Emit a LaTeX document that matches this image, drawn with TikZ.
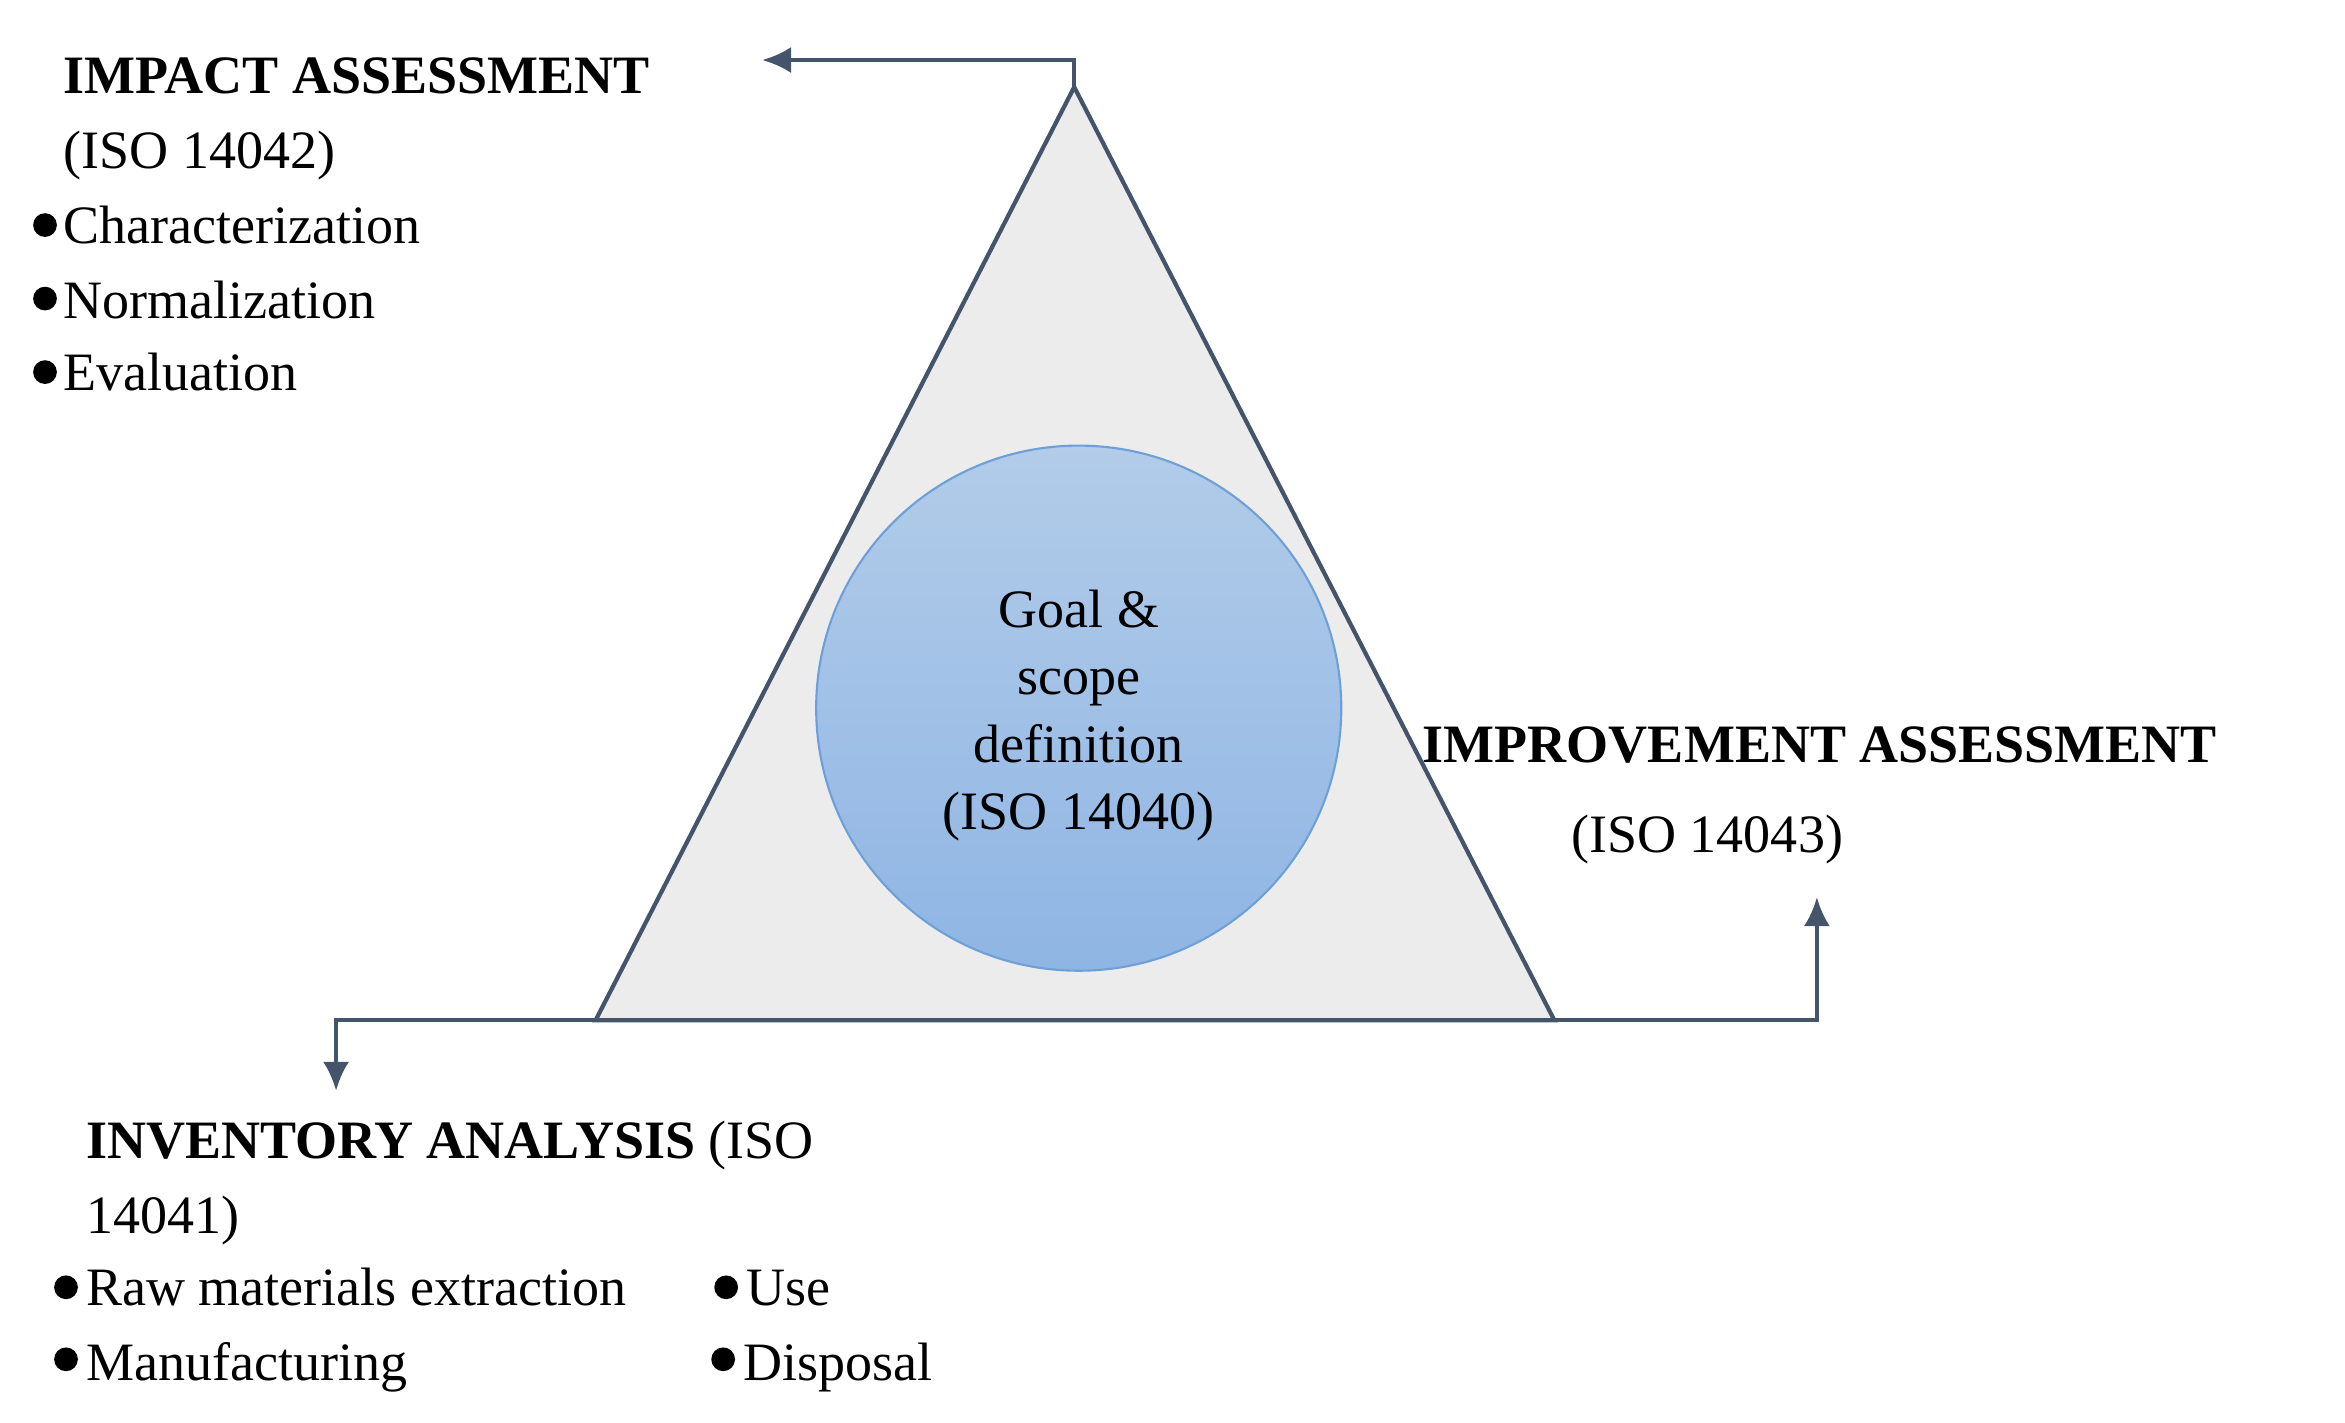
\documentclass[tikz,border=0pt]{standalone}
\usepackage{fontspec}
\setmainfont{Liberation Serif}
\begin{document}
\begin{tikzpicture}[x=0.02cm,y=-0.02cm,
  lbl/.style={anchor=base west,inner sep=0,font=\fontsize{20.5}{25}\selectfont},
  ctr/.style={anchor=base,inner sep=0,font=\fontsize{20.5}{25}\selectfont},
  conn/.style={draw=edge,line width=1.6pt,-{Latex[length=11pt,width=10pt]}},
  bul/.style={circle,fill=black,inner sep=0,minimum size=9pt}]
\usetikzlibrary{arrows.meta}
\definecolor{edge}{HTML}{44546A}
\useasboundingbox (0,0) rectangle (1563,948);
\coordinate (A) at (716,58);
\coordinate (B) at (397,680);
\coordinate (C) at (1036,680);
\draw[edge,line width=1.6pt,fill={rgb,255:red,236;green,236;blue,236}] (A)--(B)--(C)--cycle;
\node[circle,minimum size=350*0.02cm,top color={rgb,255:red,178;green,204;blue,233},bottom color={rgb,255:red,143;green,181;blue,228},draw={rgb,255:red,110;green,160;blue,215},line width=0.8pt] (circ) at (719,472) {};
\node[ctr] at (719,418) {Goal \&};
\node[ctr] at (719,463) {scope};
\node[ctr] at (719,508) {definition};
\node[ctr] at (719,553) {(ISO 14040)};
\coordinate (t1) at (716,40); \coordinate (t2) at (508,40);
\draw[conn] (A)--(t1)--(t2);
\coordinate (l1) at (224,680); \coordinate (l2) at (224,727);
\draw[conn] (B)--(l1)--(l2);
\coordinate (r1) at (1211,680); \coordinate (r2) at (1211,598);
\draw[conn] (C)--(r1)--(r2);
% impact
\node[lbl] at (42,62) {\textbf{IMPACT ASSESSMENT}};
\node[lbl] at (42,112) {(ISO 14042)};
\node[bul] at (30,150) {}; \node[lbl] at (42,162) {Characterization};
\node[bul] at (30,199) {}; \node[lbl] at (42,212) {Normalization};
\node[bul] at (30,248) {}; \node[lbl] at (42,260) {Evaluation};
% improvement
\node[lbl] at (948,508) {\textbf{IMPROVEMENT ASSESSMENT}};
\node[lbl] at (1047,568) {(ISO 14043)};
% inventory
\node[lbl] at (57,772) {\textbf{INVENTORY ANALYSIS} (ISO};
\node[lbl] at (57,822) {14041)};
\node[bul] at (44,858) {}; \node[lbl] at (57,870) {Raw materials extraction};
\node[bul] at (484,858) {}; \node[lbl] at (497,870) {Use};
\node[bul] at (44,906) {}; \node[lbl] at (57,920) {Manufacturing};
\node[bul] at (482,906) {}; \node[lbl] at (495,920) {Disposal};
\end{tikzpicture}
\end{document}
